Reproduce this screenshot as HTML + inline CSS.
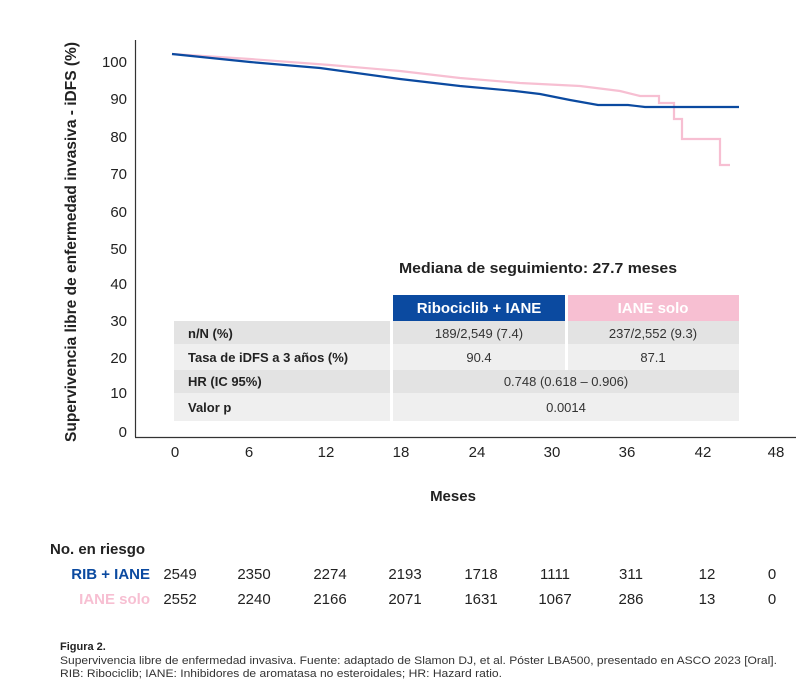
<!DOCTYPE html>
<html><head><meta charset="utf-8"><style>
body{margin:0;background:#fff;font-family:"Liberation Sans",sans-serif;}
svg{display:block}
</style></head><body>
<svg width="804" height="682" viewBox="0 0 804 682" font-family="Liberation Sans, sans-serif">
<rect width="804" height="682" fill="#fff"/>
<text transform="translate(76,242) rotate(-90)" text-anchor="middle" font-size="15.5" font-weight="bold" fill="#222" textLength="400" lengthAdjust="spacingAndGlyphs">Supervivencia libre de enfermedad invasiva - iDFS (%)</text>
<g font-size="15" fill="#222" text-anchor="end">
<text x="127" y="67">100</text><text x="127" y="104">90</text><text x="127" y="142">80</text><text x="127" y="179">70</text><text x="127" y="217">60</text><text x="127" y="254">50</text><text x="127" y="289">40</text><text x="127" y="326">30</text><text x="127" y="363">20</text><text x="127" y="398">10</text><text x="127" y="437">0</text>
</g>
<line x1="135.5" y1="40" x2="135.5" y2="437" stroke="#333" stroke-width="1.2"/>
<line x1="135" y1="437.5" x2="796" y2="437.5" stroke="#333" stroke-width="1.2"/>
<g font-size="15" fill="#222" text-anchor="middle">
<text x="175" y="457">0</text><text x="249" y="457">6</text><text x="326" y="457">12</text><text x="401" y="457">18</text><text x="477" y="457">24</text><text x="552" y="457">30</text><text x="627" y="457">36</text><text x="703" y="457">42</text><text x="776" y="457">48</text>
</g>
<text x="453" y="501" text-anchor="middle" font-size="15" font-weight="bold" fill="#222">Meses</text>
<polyline fill="none" stroke="#f7bfd2" stroke-width="2.2" points="172,54 250,59 330,65 400,71 460,78 520,83 580,86 620,91 640,96 659,96 659,103 674,103 674,119 682,119 682,139 720,139 720,165 730,165"/>
<polyline fill="none" stroke="#0b4aa0" stroke-width="2.2" points="172,54 250,62 320,68 400,79 460,86 515,91 540,94 570,100 598,105 628,105 645,107 739,107"/>
<text x="538" y="273" text-anchor="middle" font-size="15" font-weight="bold" fill="#222" textLength="278" lengthAdjust="spacingAndGlyphs">Mediana de seguimiento: 27.7 meses</text>
<rect x="393" y="295" width="172" height="26" fill="#0b4aa0"/>
<rect x="568" y="295" width="171" height="26" fill="#f7bfd2"/>
<text x="479" y="313" text-anchor="middle" font-size="15" font-weight="bold" fill="#fff">Ribociclib + IANE</text>
<text x="653" y="313" text-anchor="middle" font-size="15" font-weight="bold" fill="#fff">IANE solo</text>
<rect x="174" y="321" width="216" height="23" fill="#e3e3e3"/><rect x="393" y="321" width="346" height="23" fill="#e3e3e3"/>
<rect x="174" y="344" width="216" height="26" fill="#efefef"/><rect x="393" y="344" width="346" height="26" fill="#efefef"/>
<rect x="174" y="370" width="216" height="23" fill="#e3e3e3"/><rect x="393" y="370" width="346" height="23" fill="#e3e3e3"/>
<rect x="174" y="393" width="216" height="28" fill="#efefef"/><rect x="393" y="393" width="346" height="28" fill="#efefef"/>
<line x1="566.5" y1="321" x2="566.5" y2="370" stroke="#fff" stroke-width="3"/>
<g font-size="13" font-weight="bold" fill="#222">
<text x="188" y="338">n/N (%)</text><text x="188" y="362">Tasa de iDFS a 3 años (%)</text><text x="188" y="386">HR (IC 95%)</text><text x="188" y="412">Valor p</text>
</g>
<g font-size="13" fill="#333" text-anchor="middle">
<text x="479" y="338">189/2,549 (7.4)</text><text x="653" y="338">237/2,552 (9.3)</text>
<text x="479" y="362">90.4</text><text x="653" y="362">87.1</text>
<text x="566" y="386">0.748 (0.618 – 0.906)</text><text x="566" y="412">0.0014</text>
</g>
<text x="50" y="554" font-size="15" font-weight="bold" fill="#222">No. en riesgo</text>
<text x="150" y="579" text-anchor="end" font-size="15" font-weight="bold" fill="#0b4aa0">RIB + IANE</text>
<text x="150" y="604" text-anchor="end" font-size="15" font-weight="bold" fill="#f7bfd2">IANE solo</text>
<g font-size="15" fill="#222" text-anchor="middle">
<text x="180" y="579">2549</text><text x="254" y="579">2350</text><text x="330" y="579">2274</text><text x="405" y="579">2193</text><text x="481" y="579">1718</text><text x="555" y="579">1111</text><text x="631" y="579">311</text><text x="707" y="579">12</text><text x="772" y="579">0</text>
<text x="180" y="604">2552</text><text x="254" y="604">2240</text><text x="330" y="604">2166</text><text x="405" y="604">2071</text><text x="481" y="604">1631</text><text x="555" y="604">1067</text><text x="631" y="604">286</text><text x="707" y="604">13</text><text x="772" y="604">0</text>
</g>
<text x="60" y="650" font-size="11" font-weight="bold" fill="#222">Figura 2.</text>
<text x="60" y="664" font-size="11" fill="#333" textLength="717" lengthAdjust="spacingAndGlyphs">Supervivencia libre de enfermedad invasiva. Fuente: adaptado de Slamon DJ, et al. Póster LBA500, presentado en ASCO 2023 [Oral].</text>
<text x="60" y="677" font-size="11" fill="#333" textLength="442" lengthAdjust="spacingAndGlyphs">RIB: Ribociclib; IANE: Inhibidores de aromatasa no esteroidales; HR: Hazard ratio.</text>
</svg>
</body></html>
